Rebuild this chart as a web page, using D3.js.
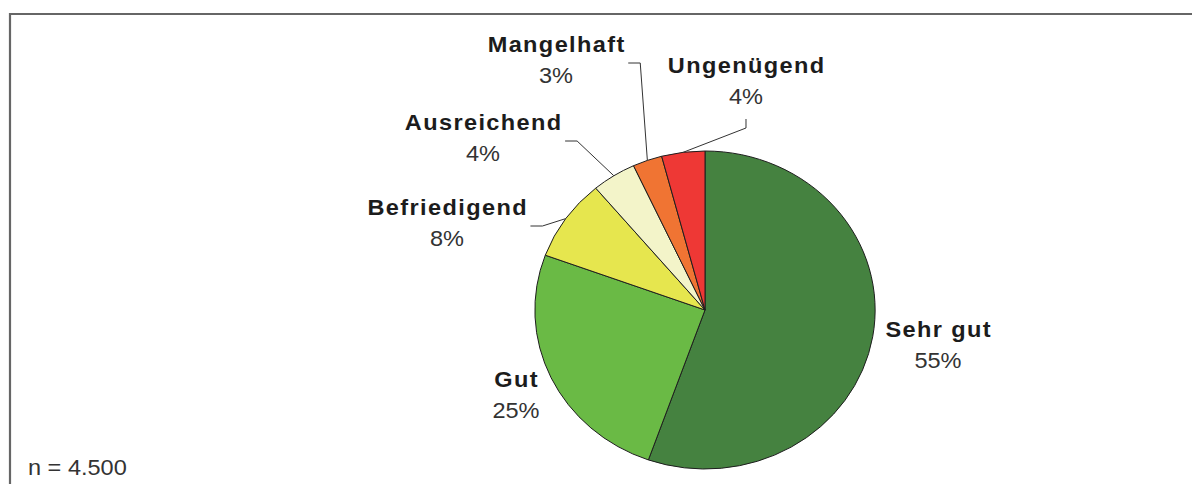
<!DOCTYPE html>
<html>
<head>
<meta charset="utf-8">
<script src="https://cdn.jsdelivr.net/npm/d3@7"></script>
<style>
  html, body { margin: 0; padding: 0; background: #fff; }
  svg { display: block; }
</style>
</head>
<body>
<div id="chart"></div>
<script>
// Data (clockwise from 12 o'clock)
const categories = ["Sehr gut", "Gut", "Befriedigend", "Ausreichend", "Mangelhaft", "Ungenügend"];
const shares = [55.4, 25.2, 8.3, 4.2, 2.8, 4.1];
const shownPct = ["55%", "25%", "8%", "4%", "3%", "4%"];
const colors = ["#458240", "#6aba45", "#e6e64e", "#f3f4c9", "#f07433", "#ee3835"];
const sampleNote = "n = 4.500";

// Layout (screen px). Label anchors were placed by hand in the original.
const labelPos = [[938, 337], [516, 387], [447, 215], [483, 130], [556, 52], [746, 73]];
// leader: null = none, "side" = from right edge, "below" = from bottom centre
const leaderType = [null, null, "side", "side", "side", "below"];

const W = 1192, H = 484;
const sx = 1.07; // the original is stretched horizontally
const vw = W / sx;

const cx = 705 / sx, cy = 310, radius = 159;

const svg = d3.select("#chart").append("svg")
  .attr("width", W)
  .attr("height", H)
  .attr("viewBox", `0 0 ${vw} ${H}`)
  .attr("preserveAspectRatio", "none");

// Frame (top and left edges visible)
svg.append("path")
  .attr("d", `M${10 / sx},${H + 5} L${10 / sx},14 L${vw + 5},14`)
  .attr("fill", "none")
  .attr("stroke", "#666")
  .attr("stroke-width", 2.2)
  .attr("vector-effect", "non-scaling-stroke");

const pie = d3.pie().sort(null).value(d => d);
const arcs = pie(shares);

const arc = d3.arc().innerRadius(0).outerRadius(radius);

const g = svg.append("g").attr("transform", `translate(${cx},${cy})`);

g.selectAll("path.slice")
  .data(arcs)
  .enter().append("path")
  .attr("class", "slice")
  .attr("d", arc)
  .attr("fill", (d, i) => colors[i])
  .attr("stroke", "#1e1e1e")
  .attr("stroke-width", 1)
  .attr("stroke-linejoin", "round")
  .attr("vector-effect", "non-scaling-stroke");

// Labels
const ls = 1.3;
const labels = svg.append("g").attr("font-family", "'Liberation Sans', Arial, sans-serif");

categories.forEach((name, i) => {
  const [lx, ly] = labelPos[i];
  const x = lx / sx;

  const t1 = labels.append("text")
    .attr("x", x + ls / 2)
    .attr("y", ly)
    .attr("text-anchor", "middle")
    .attr("font-size", 22)
    .attr("font-weight", "bold")
    .attr("letter-spacing", ls)
    .attr("fill", "#1c1c1c")
    .text(name);

  labels.append("text")
    .attr("x", x)
    .attr("y", ly + 31)
    .attr("text-anchor", "middle")
    .attr("font-size", 22)
    .attr("fill", "#333")
    .text(shownPct[i]);

  if (!leaderType[i]) return;

  // end point on the rim at the slice's mid angle
  const a = (arcs[i].startAngle + arcs[i].endAngle) / 2;
  const ex = cx + radius * Math.sin(a);
  const ey = cy - radius * Math.cos(a);

  let pts;
  if (leaderType[i] === "side") {
    const w = t1.node().getComputedTextLength();
    const x0 = x + w / 2 + 3;
    const y0 = ly + 11;
    pts = [[x0, y0], [x0 + 12 / sx, y0], [ex, ey]];
  } else {
    const y0 = ly + 46;
    pts = [[x, y0], [x, y0 + 9], [ex, ey]];
  }

  svg.append("path")
    .attr("d", d3.line()(pts))
    .attr("fill", "none")
    .attr("stroke", "#333")
    .attr("stroke-width", 1)
    .attr("vector-effect", "non-scaling-stroke");
});

// Sample size note
svg.append("text")
  .attr("x", 28 / sx)
  .attr("y", 475)
  .attr("font-family", "'Liberation Sans', Arial, sans-serif")
  .attr("font-size", 22)
  .attr("fill", "#333")
  .text(sampleNote);
</script>
</body>
</html>
